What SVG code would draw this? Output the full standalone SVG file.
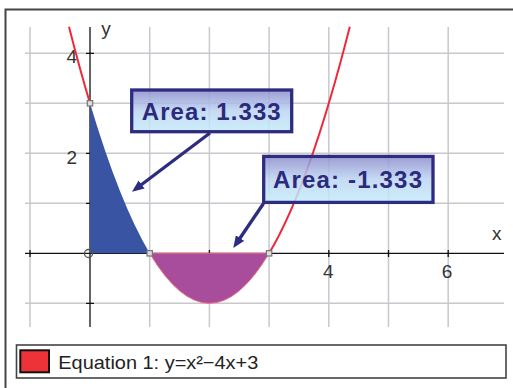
<svg xmlns="http://www.w3.org/2000/svg" width="513" height="388" viewBox="0 0 513 388">
<defs>
<style>
.grid{stroke:#c8c8ce;stroke-width:1.5;fill:none}
.axis{stroke:#111;stroke-width:1.3;fill:none}
.tick{font-family:"Liberation Sans",Arial,sans-serif;font-size:19px;fill:#333}
.lbl{font-family:"Liberation Sans",Arial,sans-serif;font-size:24px;font-weight:bold;fill:#2c2a7c}
.box{fill:url(#g);fill-opacity:0.85;stroke:#2e2c80;stroke-width:3.3}
.arr{stroke:#2e2c80;stroke-width:3.3;fill:none;marker-end:url(#ah)}
.pt{fill:#ddd;stroke:#777;stroke-width:1.2}
</style>
<linearGradient id="g" x1="0" y1="0" x2="0" y2="1">
<stop offset="0" stop-color="#8c8ccc"/>
<stop offset="0.5" stop-color="#bcd4f2"/>
<stop offset="1" stop-color="#c4ecfa"/>
</linearGradient>
<marker id="ah" markerUnits="userSpaceOnUse" markerWidth="14" markerHeight="12" refX="2" refY="5" orient="auto">
<path d="M0,0 L12,5 L0,10 z" fill="#2e2c80"/>
</marker>
</defs>
<rect x="0" y="0" width="513" height="388" fill="#fff"/>
<rect x="5.5" y="9.5" width="520" height="400" fill="none" stroke="#444" stroke-width="2"/>
<g id="grid">
<path class="grid" d="M30,27V327M149.7,27V327M209.4,27V327M269.1,27V327M328.8,27V327M388.5,27V327M448.2,27V327"/>
<path class="grid" d="M25,53.3H504M25,103.3H504M25,153.3H504M25,203.3H504M25,303.3H504"/>
</g>
<g id="axes">
<path class="axis" d="M25,253.3H504M90,27V327"/>
<path class="axis" d="M30,250V257M209.4,250V257M328.8,250V257M388.5,250V257M448.2,250V257M86,53.3H94M86,153.3H94M86,203.3H94M86,303.3H94"/>
<text class="tick" x="77" y="63" text-anchor="end">4</text>
<text class="tick" x="77" y="163.5" text-anchor="end">2</text>
<text class="tick" x="328.3" y="277.7" text-anchor="middle">4</text>
<text class="tick" x="447" y="277.7" text-anchor="middle">6</text>
<text class="tick" x="496.7" y="240" text-anchor="middle">x</text>
<text class="tick" x="106" y="35" text-anchor="middle">y</text>
</g>
<g id="regions">
<path d="M90,253.3 L90,103.3 Q119.85,203.3 149.7,253.3 Z" fill="#3a54a4"/>
<path d="M149.7,253.3 Q209.4,353.3 269.1,253.3 Z" fill="#a84c9c" stroke="#ee6a80" stroke-width="1"/>
</g>
<g id="curve">
<path d="M68.99,26.7 Q79.49,68.1 90,103.3" fill="none" stroke="#ee2a3a" stroke-width="2"/>
<path d="M269.1,253.3 Q309.46,185.7 349.8,26.7" fill="none" stroke="#ee2a3a" stroke-width="2"/>
</g>
<g id="points">
<circle cx="88.5" cy="253.5" r="4" fill="none" stroke="#555" stroke-width="1.3"/>
<rect class="pt" x="87.3" y="100.6" width="5.4" height="5.4"/>
<rect class="pt" x="147" y="250.6" width="5.4" height="5.4"/>
<rect class="pt" x="266.4" y="250.6" width="5.4" height="5.4"/>
</g>
<g id="label1">
<rect class="box" x="131.7" y="90" width="160" height="41.7"/>
<text class="lbl" x="141.7" y="119.5" textLength="139" lengthAdjust="spacing">Area: 1.333</text>
</g>
<g id="label2">
<rect class="box" x="263.7" y="156.4" width="169.3" height="46"/>
<text class="lbl" x="273" y="187.5" textLength="149" lengthAdjust="spacing">Area: -1.333</text>
</g>
<g id="connectors">
<line class="arr" x1="210" y1="133" x2="140" y2="185.7"/>
<line class="arr" x1="263.5" y1="203.5" x2="238.9" y2="239.7"/>
</g>
<g id="legend">
<rect x="16.5" y="345" width="489.5" height="33" fill="#fff" stroke="#444" stroke-width="1.6"/>
<rect x="20.3" y="350.3" width="28.7" height="22" fill="#ee3338" stroke="#111" stroke-width="2"/>
<text x="58.3" y="368.5" font-family="'Liberation Sans',Arial,sans-serif" font-size="19" fill="#222" textLength="200" lengthAdjust="spacingAndGlyphs">Equation 1: y=x²−4x+3</text>
</g>
</svg>
